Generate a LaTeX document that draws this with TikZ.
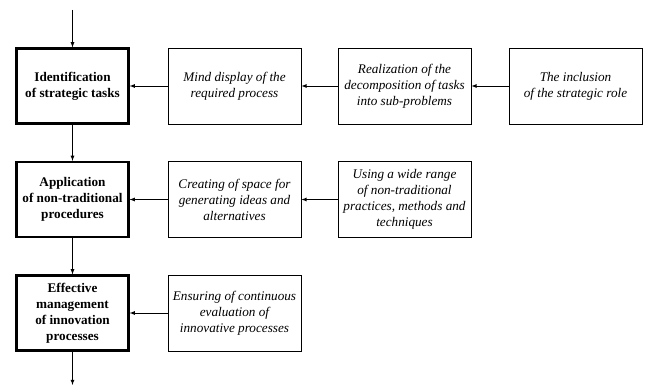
\documentclass[tikz,border=0pt]{standalone}
\usepackage{fontspec}
\setmainfont{Liberation Serif}
\usepackage{tikz}
\usetikzlibrary{arrows}

\tikzset{
  mainbox/.style={draw, line width=2.2pt, align=center, font=\fontsize{13.2}{16}\selectfont\bfseries,
    minimum width=112pt, minimum height=75pt, inner sep=1pt},
  sidebox/.style={draw, line width=0.8pt, align=center, font=\fontsize{13.2}{16}\selectfont\itshape,
    minimum width=133pt, minimum height=76pt, inner sep=1pt},
  link/.style={->, >=latex, line width=0.8pt, shorten >=0pt}
}

\begin{document}
\begin{tikzpicture}[x=1pt, y=-1pt]
\useasboundingbox (0,0) rectangle (645,385);
\node[mainbox] (ident) at (72.5, 86) {Identification\\of strategic tasks};
\node[mainbox] (appl) at (72.5, 199.5) {Application\\of non-traditional\\procedures};
\node[mainbox] (manag) at (72.5, 313) {Effective\\management\\of innovation\\processes};
\node[sidebox] (mind) at (234.5, 86) {Mind display of the\\required process};
\node[sidebox] (realiz) at (404.5, 86) {Realization of the\\decomposition of tasks\\into sub-problems};
\node[sidebox] (inclus) at (575.5, 86) {The inclusion\\of the strategic role};
\node[sidebox] (space) at (234.5, 199.5) {Creating of space for\\generating ideas and\\alternatives};
\node[sidebox] (range) at (404.5, 199.5) {Using a wide range\\of non-traditional\\practices, methods and\\techniques};
\node[sidebox] (ensur) at (234.5, 313) {Ensuring of continuous\\evaluation of\\innovative processes};
\coordinate (start) at (72.5, 10);
\coordinate (finish) at (72.5, 385);
% vertical flow
\draw[link] (start) -- (ident);
\draw[link] (ident) -- (appl);
\draw[link] (appl) -- (manag);
\draw[link] (manag) -- (finish);
% side inputs
\draw[link] (inclus) -- (realiz);
\draw[link] (realiz) -- (mind);
\draw[link] (mind) -- (ident);
\draw[link] (range) -- (space);
\draw[link] (space) -- (appl);
\draw[link] (ensur) -- (manag);
\end{tikzpicture}
\end{document}
